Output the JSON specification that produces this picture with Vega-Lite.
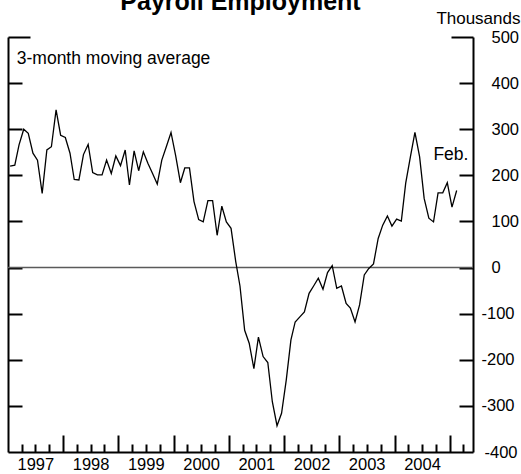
{
  "$schema": "https://vega.github.io/schema/vega-lite/v6.json",
  "width": 465,
  "height": 415,
  "autosize": {"type": "none"},
  "padding": {"left": 8, "top": 37, "right": 48, "bottom": 22},
  "background": "white",
  "config": {"view": {"stroke": null}, "font": "Liberation Sans"},
  "title": {"text": "Payroll Employment", "fontSize": 25, "font": "Liberation Sans", "fontWeight": "bold", "anchor": "middle", "frame": "group", "baseline": "alphabetic", "offset": 2, "dy": 28, "color": "black"},
  "datasets": {
    "payroll": [
      {"date": "1997-01-15", "value": 220}, {"date": "1997-02-15", "value": 222}, {"date": "1997-03-15", "value": 266}, {"date": "1997-04-15", "value": 300}, {"date": "1997-05-15", "value": 291}, {"date": "1997-06-15", "value": 248}, {"date": "1997-07-15", "value": 233}, {"date": "1997-08-15", "value": 161}, {"date": "1997-09-15", "value": 255}, {"date": "1997-10-15", "value": 262}, {"date": "1997-11-15", "value": 342}, {"date": "1997-12-15", "value": 287},
      {"date": "1998-01-15", "value": 282}, {"date": "1998-02-15", "value": 248}, {"date": "1998-03-15", "value": 191}, {"date": "1998-04-15", "value": 190}, {"date": "1998-05-15", "value": 245}, {"date": "1998-06-15", "value": 267}, {"date": "1998-07-15", "value": 206}, {"date": "1998-08-15", "value": 201}, {"date": "1998-09-15", "value": 201}, {"date": "1998-10-15", "value": 233}, {"date": "1998-11-15", "value": 204}, {"date": "1998-12-15", "value": 242},
      {"date": "1999-01-15", "value": 221}, {"date": "1999-02-15", "value": 255}, {"date": "1999-03-15", "value": 179}, {"date": "1999-04-15", "value": 253}, {"date": "1999-05-15", "value": 210}, {"date": "1999-06-15", "value": 251}, {"date": "1999-07-15", "value": 226}, {"date": "1999-08-15", "value": 204}, {"date": "1999-09-15", "value": 181}, {"date": "1999-10-15", "value": 233}, {"date": "1999-11-15", "value": 263}, {"date": "1999-12-15", "value": 293},
      {"date": "2000-01-15", "value": 242}, {"date": "2000-02-15", "value": 184}, {"date": "2000-03-15", "value": 216}, {"date": "2000-04-15", "value": 216}, {"date": "2000-05-15", "value": 143}, {"date": "2000-06-15", "value": 104}, {"date": "2000-07-15", "value": 99}, {"date": "2000-08-15", "value": 145}, {"date": "2000-09-15", "value": 145}, {"date": "2000-10-15", "value": 70}, {"date": "2000-11-15", "value": 133}, {"date": "2000-12-15", "value": 99},
      {"date": "2001-01-15", "value": 85}, {"date": "2001-02-15", "value": 13}, {"date": "2001-03-15", "value": -40}, {"date": "2001-04-15", "value": -136}, {"date": "2001-05-15", "value": -164}, {"date": "2001-06-15", "value": -219}, {"date": "2001-07-15", "value": -151}, {"date": "2001-08-15", "value": -193}, {"date": "2001-09-15", "value": -206}, {"date": "2001-10-15", "value": -291}, {"date": "2001-11-15", "value": -343}, {"date": "2001-12-15", "value": -316},
      {"date": "2002-01-15", "value": -244}, {"date": "2002-02-15", "value": -157}, {"date": "2002-03-15", "value": -118}, {"date": "2002-04-15", "value": -107}, {"date": "2002-05-15", "value": -96}, {"date": "2002-06-15", "value": -56}, {"date": "2002-07-15", "value": -40}, {"date": "2002-08-15", "value": -23}, {"date": "2002-09-15", "value": -47}, {"date": "2002-10-15", "value": -11}, {"date": "2002-11-15", "value": 4}, {"date": "2002-12-15", "value": -45},
      {"date": "2003-01-15", "value": -40}, {"date": "2003-02-15", "value": -78}, {"date": "2003-03-15", "value": -88}, {"date": "2003-04-15", "value": -118}, {"date": "2003-05-15", "value": -81}, {"date": "2003-06-15", "value": -16}, {"date": "2003-07-15", "value": -2}, {"date": "2003-08-15", "value": 8}, {"date": "2003-09-15", "value": 63}, {"date": "2003-10-15", "value": 92}, {"date": "2003-11-15", "value": 112}, {"date": "2003-12-15", "value": 90},
      {"date": "2004-01-15", "value": 105}, {"date": "2004-02-15", "value": 101}, {"date": "2004-03-15", "value": 183}, {"date": "2004-04-15", "value": 240}, {"date": "2004-05-15", "value": 293}, {"date": "2004-06-15", "value": 240}, {"date": "2004-07-15", "value": 150}, {"date": "2004-08-15", "value": 107}, {"date": "2004-09-15", "value": 99}, {"date": "2004-10-15", "value": 162}, {"date": "2004-11-15", "value": 162}, {"date": "2004-12-15", "value": 184},
      {"date": "2005-01-15", "value": 131}, {"date": "2005-02-15", "value": 167}
    ],
    "zero": [{"value": 0}],
    "noteLeft": [{"date": "1997-02-28", "value": 441, "label": "3-month moving average"}],
    "noteFeb": [{"date": "2005-01-08", "value": 234, "label": "Feb."}]
  },
  "layer": [
    {
      "data": {"name": "zero"},
      "mark": {"type": "rule", "color": "#5a5a5a", "strokeWidth": 1.6},
      "encoding": {
        "y": {"field": "value", "type": "quantitative", "scale": {"domain": [-400, 500], "nice": false},
          "axis": {"orient": "right", "values": [-400, -300, -200, -100, 0, 100, 200, 300, 400, 500],
            "tickSize": {"condition": [{"test": "datum.value == 500", "value": -22}, {"test": "datum.value == -400", "value": 0}], "value": -14},
            "labelPadding": {"condition": [{"test": "datum.value == 500", "value": 40}, {"test": "datum.value == -400", "value": 11}, {"test": "datum.value < 0", "value": 22}], "value": 32},
            "labelExpr": "'' + datum.value",
            "labelAlign": "left", "labelBaseline": "middle", "labelFontSize": 16.5, "labelColor": "black", "labelFont": "Liberation Sans",
            "labelFlush": false, "labelOverlap": false, "labelBound": false,
            "domainColor": "black", "domainWidth": 2, "tickColor": "black", "tickWidth": 2, "grid": false,
            "title": "Thousands", "titleAngle": 0, "titleAlign": "right", "titleBaseline": "alphabetic", "titleX": 47, "titleY": -14,
            "titleFontSize": 17, "titleFontWeight": "normal", "titleColor": "black", "titleFont": "Liberation Sans"}}
      }
    },
    {
      "data": {"name": "payroll"},
      "mark": {"type": "line", "color": "black", "strokeWidth": 1.3},
      "encoding": {
        "x": {"field": "date", "type": "temporal",
          "scale": {"type": "utc", "domain": [{"year": 1997, "month": 1, "date": 1, "utc": true}, {"year": 2005, "month": 6, "date": 3, "utc": true}]},
          "axis": {
            "values": [
              {"year": 1997, "month": 4, "date": 1, "utc": true}, {"year": 1997, "month": 7, "date": 1, "utc": true}, {"year": 1997, "month": 10, "date": 1, "utc": true},
              {"year": 1998, "month": 1, "date": 1, "utc": true}, {"year": 1998, "month": 4, "date": 1, "utc": true}, {"year": 1998, "month": 7, "date": 1, "utc": true}, {"year": 1998, "month": 10, "date": 1, "utc": true},
              {"year": 1999, "month": 1, "date": 1, "utc": true}, {"year": 1999, "month": 4, "date": 1, "utc": true}, {"year": 1999, "month": 7, "date": 1, "utc": true}, {"year": 1999, "month": 10, "date": 1, "utc": true},
              {"year": 2000, "month": 1, "date": 1, "utc": true}, {"year": 2000, "month": 4, "date": 1, "utc": true}, {"year": 2000, "month": 7, "date": 1, "utc": true}, {"year": 2000, "month": 10, "date": 1, "utc": true},
              {"year": 2001, "month": 1, "date": 1, "utc": true}, {"year": 2001, "month": 4, "date": 1, "utc": true}, {"year": 2001, "month": 7, "date": 1, "utc": true}, {"year": 2001, "month": 10, "date": 1, "utc": true},
              {"year": 2002, "month": 1, "date": 1, "utc": true}, {"year": 2002, "month": 4, "date": 1, "utc": true}, {"year": 2002, "month": 7, "date": 1, "utc": true}, {"year": 2002, "month": 10, "date": 1, "utc": true},
              {"year": 2003, "month": 1, "date": 1, "utc": true}, {"year": 2003, "month": 4, "date": 1, "utc": true}, {"year": 2003, "month": 7, "date": 1, "utc": true}, {"year": 2003, "month": 10, "date": 1, "utc": true},
              {"year": 2004, "month": 1, "date": 1, "utc": true}, {"year": 2004, "month": 4, "date": 1, "utc": true}, {"year": 2004, "month": 7, "date": 1, "utc": true}, {"year": 2004, "month": 10, "date": 1, "utc": true},
              {"year": 2005, "month": 1, "date": 1, "utc": true}, {"year": 2005, "month": 4, "date": 1, "utc": true}
            ],
            "tickSize": {"condition": {"test": "utcmonth(datum.value) == 0", "value": -17}, "value": -8},
            "labelExpr": "utcmonth(datum.value) == 6 ? utcFormat(datum.value, '%Y') : ''",
            "labelPadding": 12, "labelFontSize": 16.5, "labelColor": "black", "labelFont": "Liberation Sans",
            "labelFlush": false, "labelOverlap": false, "labelBound": false,
            "domainColor": "black", "domainWidth": 2, "tickColor": "black", "tickWidth": 2, "grid": false, "title": null}
        },
        "y": {"field": "value", "type": "quantitative", "scale": {"domain": [-400, 500], "nice": false},
          "axis": {"orient": "left", "values": [-300, -200, -100, 0, 100, 200, 300, 400, 500],
            "tickSize": {"condition": {"test": "datum.value == 500", "value": -22}, "value": -14},
            "labels": false, "domainColor": "black", "domainWidth": 2, "tickColor": "black", "tickWidth": 2, "grid": false, "title": null}}
      }
    },
    {
      "data": {"name": "noteLeft"},
      "mark": {"type": "text", "align": "left", "baseline": "alphabetic", "fontSize": 17.5, "font": "Liberation Sans", "color": "black"},
      "encoding": {
        "x": {"field": "date", "type": "temporal", "scale": {"type": "utc", "domain": [{"year": 1997, "month": 1, "date": 1, "utc": true}, {"year": 2005, "month": 6, "date": 3, "utc": true}]}, "axis": null},
        "y": {"field": "value", "type": "quantitative", "scale": {"domain": [-400, 500], "nice": false}, "axis": null},
        "text": {"field": "label"}
      }
    },
    {
      "data": {"name": "noteFeb"},
      "mark": {"type": "text", "align": "center", "baseline": "alphabetic", "fontSize": 17.5, "font": "Liberation Sans", "color": "black"},
      "encoding": {
        "x": {"field": "date", "type": "temporal", "scale": {"type": "utc", "domain": [{"year": 1997, "month": 1, "date": 1, "utc": true}, {"year": 2005, "month": 6, "date": 3, "utc": true}]}, "axis": null},
        "y": {"field": "value", "type": "quantitative", "scale": {"domain": [-400, 500], "nice": false}, "axis": null},
        "text": {"field": "label"}
      }
    }
  ],
  "resolve": {"axis": {"x": "independent", "y": "independent"}}
}
